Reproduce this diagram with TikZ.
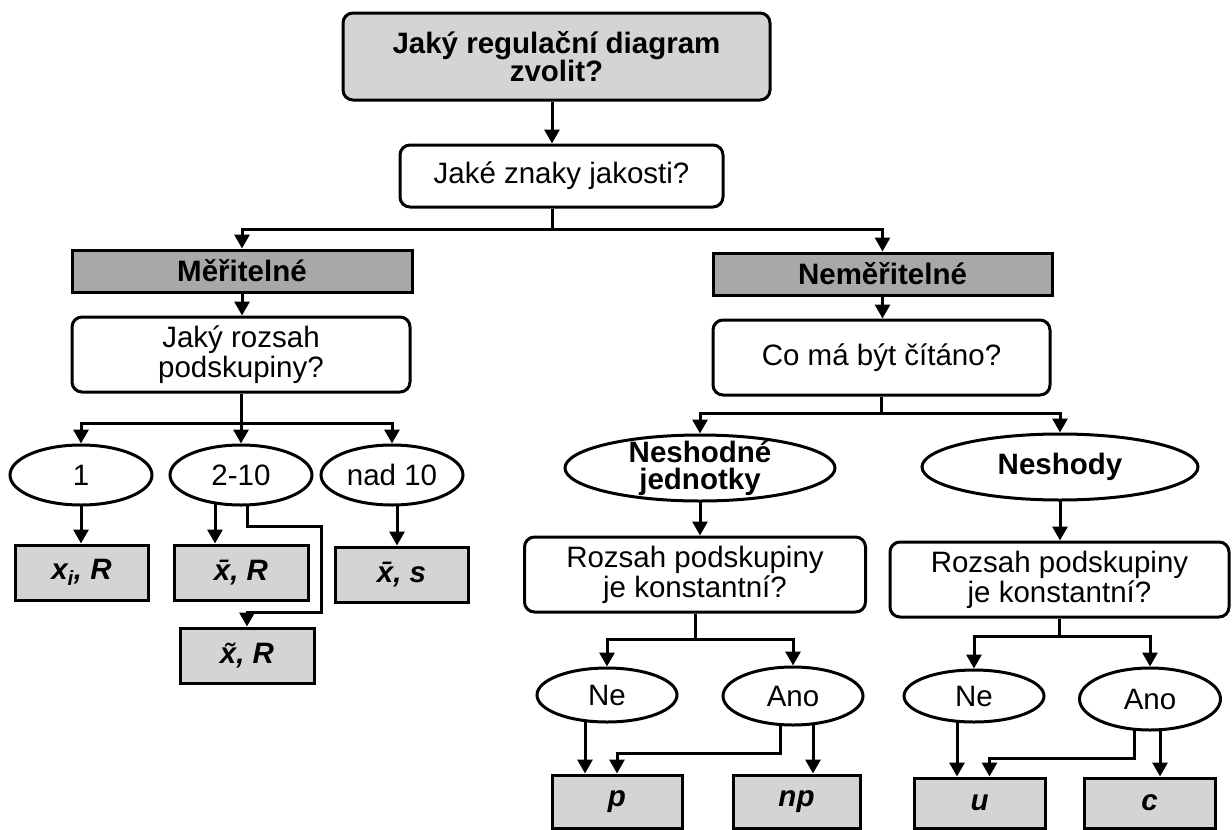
\documentclass[tikz,border=0pt]{standalone}
\usepackage{fontspec}
\setmainfont{Liberation Sans}
\usetikzlibrary{arrows.meta,shapes.geometric,calc}
\pgfdeclarelayer{bg}
\pgfsetlayers{bg,main}
\definecolor{lightfill}{HTML}{D4D4D4}
\definecolor{darkfill}{HTML}{A8A8A8}
\tikzset{
  every node/.style={font=\fontsize{29.5}{30}\selectfont, align=center, inner sep=0pt},
  rbox/.style={draw, line width=3pt, rounded corners=10pt, fill=white},
  tbox/.style={draw, line width=3pt, rounded corners=10pt, fill=lightfill, font=\fontsize{29.5}{27}\selectfont\bfseries},
  gbox/.style={draw, line width=3pt, fill=lightfill, font=\fontsize{29.5}{30}\selectfont\bfseries\itshape},
  dbox/.style={draw, line width=3pt, fill=darkfill, font=\fontsize{29.5}{30}\selectfont\bfseries},
  oval/.style={draw, ellipse, line width=3pt, fill=white},
  boval/.style={oval, font=\fontsize{29.5}{27}\selectfont\bfseries},
  arr/.style={line width=3pt, -{Triangle[length=14pt,width=15pt]}},
  ln/.style={line width=3pt},
}
\begin{document}
\begin{tikzpicture}[x=1pt,y=-1pt]
\useasboundingbox (0,0) rectangle (1232,830);
% top
\node[tbox, minimum width=427pt, minimum height=87pt] (top) at (556.5,56.5) {Jaký regulační diagram\\zvolit?};
\node[rbox, minimum width=323pt, minimum height=62pt] (q1) at (561.5,176) {Jaké znaky jakosti?};
\node[dbox, minimum width=340pt, minimum height=42pt] (mer) at (242,271) {Měřitelné};
\node[dbox, minimum width=339pt, minimum height=42pt] (nemer) at (882.5,274) {Neměřitelné};
% left branch
\node[rbox, minimum width=338pt, minimum height=75pt] (q2) at (241,354.5) {Jaký rozsah\\podskupiny?};
\node[oval, minimum width=142pt, minimum height=60pt] (e1) at (81,475) {1};
\node[oval, minimum width=142pt, minimum height=60pt] (e210) at (241,475) {2-10};
\node[oval, minimum width=142pt, minimum height=60pt] (e10) at (392,475) {nad 10};
\node[gbox, minimum width=133pt, minimum height=55pt] (b1) at (81.5,572.5) {x\textsubscript{i}, R};
\node[gbox, minimum width=134pt, minimum height=55pt] (xbar) at (241,572.5) {x̄, R};
\node[gbox, minimum width=133pt, minimum height=55pt] (xs) at (401.5,574.5) {x̄, s};
\node[gbox, minimum width=134pt, minimum height=55pt] (xtil) at (247,655.5) {x̃, R};
% right branch
\node[rbox, minimum width=337pt, minimum height=75pt] (q3) at (881.5,357.5) {Co má být čítáno?};
\node[boval, inner ysep=-7pt, minimum width=270pt, minimum height=66pt] (eNJ) at (700,468) {Neshodné\\jednotky};
\node[boval, minimum width=276pt, minimum height=66pt] (eN) at (1060,467) {Neshody};
\node[rbox, minimum width=341pt, minimum height=75pt] (q4) at (695,574.5) {Rozsah podskupiny\\je konstantní?};
\node[rbox, minimum width=339pt, minimum height=75pt] (q5) at (1059.5,579.5) {Rozsah podskupiny\\je konstantní?};
\node[oval, minimum width=140pt, minimum height=54pt] (ne1) at (607,695) {Ne};
\node[oval, minimum width=140pt, minimum height=58pt] (ano1) at (793,696) {Ano};
\node[oval, minimum width=140pt, minimum height=52pt] (ne2) at (974,696) {Ne};
\node[oval, minimum width=141pt, minimum height=62pt] (ano2) at (1150,699) {Ano};
\node[gbox, minimum width=130pt, minimum height=53pt] (p) at (617,801.5) {p};
\node[gbox, minimum width=127pt, minimum height=53pt] (np) at (796.5,801.5) {np};
\node[gbox, minimum width=131pt, minimum height=50pt] (u) at (979.5,803) {u};
\node[gbox, minimum width=131pt, minimum height=50pt] (c) at (1149.5,803) {c};
% connectors
\begin{pgfonlayer}{bg}
\coordinate (c1) at ($(top.south)+(-4.5,0)$);
\draw[arr] (c1) -- (c1 |- q1.north);
\coordinate (c2) at ($(q1.south)+(-9.5,0)$);
\draw[ln] (c2) -- ++(0,21) coordinate (j1);
\draw[arr] (j1) -| (mer.north);
\draw[arr] (j1) -| (nemer.north);
\draw[arr] (mer.south) -- (mer.south |- q2.north);
\draw[ln] (q2.south) -- ++(0,30) coordinate (j2);
\draw[arr] (j2) -| (e1.north);
\draw[arr] (j2) -| (e210.north);
\draw[arr] (j2) -| (e10.north);
\draw[arr] (e1.center) -- (e1.center |- b1.north);
\draw[arr] ([xshift=-26pt]e210.center) -- ([xshift=-26pt]xbar.north);
\draw[arr] ([xshift=6pt]e210.center) |- ($(e210.east |- e210.south)+(8,20)$) |- ($(xtil.north)+(0,-14)$) -- (xtil.north);
\draw[arr] ([xshift=5pt]e10.center) -- ([xshift=5pt]e10.center |- xs.north);
\draw[arr] (nemer.south) -- (nemer.south |- q3.north);
\draw[ln] (q3.south) -- ++(0,17) coordinate (j3);
\draw[arr] (j3) -| (eNJ.north);
\draw[arr] (j3) -| (eN.north);
\draw[arr] (eNJ.center) -- (eNJ.center |- q4.north);
\draw[arr] (eN.center) -- (eN.center |- q5.north);
\draw[ln] (q4.south) -- ++(0,26) coordinate (j4);
\draw[arr] (j4) -| (ne1.north);
\draw[arr] (j4) -| (ano1.north);
\draw[ln] (q5.south) -- ++(0,18) coordinate (j5);
\draw[arr] (j5) -| (ne2.north);
\draw[arr] (j5) -| (ano2.north);
\draw[arr] ([xshift=-22pt]ne1.center) -- ([xshift=-22pt]ne1.center |- p.north);
\draw[arr] ([xshift=-13pt]ano1.center) |- ($(p.north)+(0,-20)$) -- (p.north);
\draw[arr] ([xshift=20pt]ano1.center) -- ([xshift=20pt]ano1.center |- np.north);
\draw[arr] ([xshift=-17pt]ne2.center) -- ([xshift=-17pt]ne2.center |- u.north);
\draw[arr] ([xshift=-16pt]ano2.center) |- ($(u.north)+(10,-18)$) -- ($(u.north)+(10,0)$);
\draw[arr] ([xshift=10pt]ano2.center) -- ([xshift=10pt]ano2.center |- c.north);
\end{pgfonlayer}
\end{tikzpicture}
\end{document}
